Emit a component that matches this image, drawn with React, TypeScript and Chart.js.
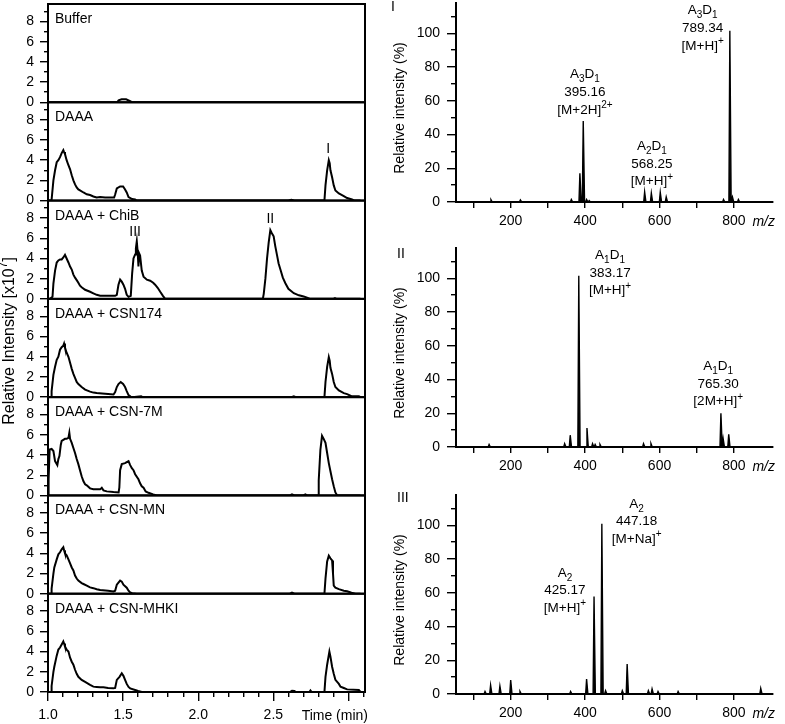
import React, { useEffect, useRef } from 'react';
import { Chart, registerables } from 'chart.js';

Chart.register(...registerables);

const W = 785;
const H = 724;
const FONT = '"Liberation Sans", Arial, Helvetica, sans-serif';

// ---------------- Left column: chromatograms (time in min, intensity x10^7) ----------------
const PANEL_NAMES = ['Buffer', 'DAAA', 'DAAA + ChiB', 'DAAA + CSN174', 'DAAA + CSN-7M', 'DAAA + CSN-MN', 'DAAA + CSN-MHKI'];

const BUFFER_TRACE: [number, number][] = [
  [1.0, 0], [1.46, 0], [1.47, 0.2], [1.49, 0.3], [1.52, 0.3], [1.55, 0.1], [1.56, 0], [3.08, 0],
];
const DAAA_TRACE: [number, number][] = [
  [1.0, 0], [1.013, 0], [1.024, 0.1], [1.036, 2.0], [1.047, 3.0], [1.058, 3.8], [1.069, 4.0], [1.08, 4.3],
  [1.091, 4.7], [1.102, 5.0], [1.107, 4.8], [1.113, 4.6], [1.124, 4.0], [1.136, 3.5], [1.147, 3.1], [1.158, 2.5],
  [1.169, 2.0], [1.18, 1.6], [1.191, 1.3], [1.202, 1.1], [1.213, 1.0], [1.236, 0.8], [1.258, 0.62], [1.28, 0.55],
  [1.302, 0.4], [1.324, 0.3], [1.347, 0.35], [1.38, 0.3], [1.44, 0.3], [1.447, 0.6], [1.458, 1.2], [1.48, 1.4],
  [1.5, 1.4], [1.513, 1.1], [1.524, 0.8], [1.536, 0.35], [1.56, 0.15], [1.58, 0.1], [1.59, 0], [2.6, 0],
  [2.62, 0.08], [2.64, 0], [2.84, 0], [2.847, 1.5], [2.858, 3.0], [2.869, 4.0], [2.875, 3.7], [2.88, 3.0],
  [2.891, 2.3], [2.902, 1.5], [2.913, 1.0], [2.936, 0.7], [2.969, 0.45], [2.991, 0.25], [3.024, 0.1], [3.04, 0],
  [3.08, 0],
];
const CHIB_TRACE: [number, number][] = [
  [1.0, 0], [1.013, 0], [1.03, 0.2], [1.036, 1.5], [1.047, 2.8], [1.058, 3.6], [1.069, 3.8], [1.08, 3.9],
  [1.091, 3.9], [1.102, 4.1], [1.113, 4.35], [1.124, 4.0], [1.136, 3.6], [1.147, 3.2], [1.158, 2.9], [1.169, 2.4],
  [1.18, 2.1], [1.191, 1.85], [1.202, 1.6], [1.213, 1.3], [1.224, 1.15], [1.247, 0.9], [1.28, 0.7], [1.302, 0.55],
  [1.324, 0.4], [1.347, 0.3], [1.4, 0.3], [1.447, 0.3], [1.458, 0.4], [1.469, 1.4], [1.48, 1.9], [1.491, 1.7],
  [1.502, 1.4], [1.513, 1.0], [1.524, 0.4], [1.536, 0.2], [1.551, 0.3], [1.56, 2.5], [1.569, 4.0], [1.58, 4.4],
  [1.585, 5.0], [1.591, 5.7], [1.597, 4.6], [1.602, 3.2], [1.607, 4.5], [1.613, 4.3], [1.624, 2.8], [1.636, 2.2],
  [1.658, 1.9], [1.68, 1.8], [1.7, 1.6], [1.713, 1.4], [1.73, 1.1], [1.747, 0.7], [1.765, 0.3], [1.78, 0],
  [2.43, 0], [2.436, 0.5], [2.447, 2.0], [2.458, 4.0], [2.469, 5.6], [2.48, 6.8], [2.49, 6.5], [2.502, 6.2],
  [2.513, 5.2], [2.524, 4.35], [2.535, 3.5], [2.547, 2.9], [2.563, 2.1], [2.58, 1.55], [2.6, 1.0], [2.636, 0.56],
  [2.67, 0.35], [2.702, 0.23], [2.72, 0.15], [2.747, 0], [2.9, 0], [2.91, 0.08], [2.92, 0], [3.08, 0],
];
const CSN174_TRACE: [number, number][] = [
  [1.0, 0], [1.02, 0], [1.024, 0.6], [1.036, 2.2], [1.047, 3.0], [1.058, 3.7], [1.069, 4.0], [1.08, 4.7],
  [1.091, 4.95], [1.102, 5.1], [1.107, 5.3], [1.113, 4.9], [1.124, 4.4], [1.136, 4.0], [1.147, 3.4], [1.158, 2.8],
  [1.169, 2.3], [1.18, 1.9], [1.191, 1.5], [1.202, 1.3], [1.224, 1.0], [1.247, 0.75], [1.28, 0.55], [1.302, 0.45],
  [1.324, 0.4], [1.36, 0.35], [1.4, 0.3], [1.436, 0.26], [1.447, 0.5], [1.458, 1.0], [1.469, 1.3], [1.484, 1.5],
  [1.5, 1.3], [1.513, 1.0], [1.524, 0.6], [1.536, 0.2], [1.55, 0.05], [1.56, 0], [1.62, 0.08], [1.63, 0],
  [2.62, 0], [2.636, 0.08], [2.65, 0], [2.84, 0], [2.847, 1.5], [2.858, 3.0], [2.869, 3.96], [2.875, 3.6],
  [2.88, 2.9], [2.891, 2.3], [2.902, 1.5], [2.913, 1.0], [2.936, 0.66], [2.969, 0.4], [2.991, 0.3], [3.02, 0.1],
  [3.069, 0.1], [3.08, 0],
];
const CSN7M_TRACE: [number, number][] = [
  [1.0, 0], [1.004, 1.6], [1.011, 4.55], [1.024, 4.6], [1.036, 4.4], [1.047, 3.4], [1.058, 3.1], [1.062, 3.0],
  [1.069, 3.6], [1.076, 3.9], [1.085, 5.0], [1.091, 5.4], [1.102, 5.5], [1.113, 5.6], [1.124, 5.6], [1.136, 5.7],
  [1.142, 6.2], [1.147, 5.6], [1.158, 5.2], [1.169, 4.7], [1.18, 4.2], [1.191, 3.6], [1.202, 3.1], [1.213, 2.5],
  [1.224, 1.9], [1.236, 1.4], [1.247, 1.1], [1.258, 1.0], [1.28, 0.7], [1.302, 0.62], [1.324, 0.6], [1.347, 0.6],
  [1.358, 0.76], [1.369, 0.5], [1.391, 0.4], [1.436, 0.33], [1.47, 0.3], [1.475, 0.8], [1.48, 2.5], [1.491, 3.1],
  [1.513, 3.2], [1.524, 3.3], [1.536, 3.4], [1.547, 3.0], [1.558, 2.7], [1.569, 2.5], [1.58, 2.1], [1.602, 1.6],
  [1.613, 1.2], [1.624, 0.9], [1.636, 0.76], [1.65, 0.4], [1.669, 0.26], [1.7, 0.1], [1.724, 0], [2.61, 0],
  [2.624, 0.1], [2.64, 0], [2.7, 0], [2.713, 0.1], [2.725, 0], [2.8, 0], [2.802, 1.5], [2.813, 4.5],
  [2.824, 5.9], [2.835, 5.6], [2.847, 5.2], [2.858, 4.2], [2.869, 3.2], [2.88, 2.4], [2.891, 1.6], [2.902, 0.9],
  [2.913, 0.3], [2.925, 0], [3.08, 0],
];
const CSNMN_TRACE: [number, number][] = [
  [1.0, 0], [1.02, 0], [1.024, 0.5], [1.036, 2.0], [1.042, 2.6], [1.058, 3.4], [1.069, 3.9], [1.08, 4.1],
  [1.091, 4.4], [1.102, 4.6], [1.107, 4.3], [1.113, 4.0], [1.124, 3.8], [1.136, 3.4], [1.147, 3.0], [1.158, 2.6],
  [1.169, 2.3], [1.18, 1.8], [1.191, 1.5], [1.202, 1.3], [1.224, 1.05], [1.236, 0.96], [1.258, 0.8], [1.28, 0.63],
  [1.302, 0.55], [1.324, 0.45], [1.347, 0.36], [1.4, 0.3], [1.436, 0.23], [1.447, 0.3], [1.458, 0.9], [1.469, 1.1],
  [1.48, 1.3], [1.491, 1.2], [1.502, 0.9], [1.524, 0.6], [1.536, 0.3], [1.547, 0.13], [1.56, 0.05], [1.59, 0],
  [2.61, 0], [2.624, 0.1], [2.64, 0], [2.84, 0], [2.847, 1.5], [2.858, 3.2], [2.869, 3.76], [2.88, 3.5],
  [2.891, 3.3], [2.897, 2.0], [2.902, 0.8], [2.913, 0.6], [2.936, 0.45], [2.969, 0.3], [2.991, 0.25], [3.02, 0.1],
  [3.047, 0], [3.08, 0],
];
const CSNMHKI_TRACE: [number, number][] = [
  [1.0, 0], [1.02, 0], [1.024, 0.6], [1.036, 2.0], [1.042, 2.5], [1.058, 3.6], [1.069, 4.2], [1.08, 4.4],
  [1.091, 4.7], [1.102, 5.0], [1.107, 4.8], [1.113, 4.5], [1.124, 4.2], [1.136, 4.0], [1.147, 3.4], [1.158, 3.0],
  [1.169, 2.7], [1.18, 2.2], [1.191, 1.8], [1.202, 1.5], [1.224, 1.2], [1.247, 1.0], [1.28, 0.7], [1.302, 0.53],
  [1.324, 0.5], [1.347, 0.46], [1.369, 0.46], [1.4, 0.4], [1.436, 0.36], [1.447, 0.4], [1.458, 1.2], [1.476, 1.5],
  [1.491, 1.85], [1.502, 1.6], [1.513, 1.2], [1.524, 0.8], [1.536, 0.5], [1.547, 0.36], [1.58, 0.2], [1.6, 0.1],
  [1.624, 0], [2.61, 0], [2.624, 0.12], [2.64, 0.1], [2.65, 0], [2.74, 0], [2.747, 0.15], [2.755, 0],
  [2.84, 0], [2.847, 1.5], [2.858, 2.7], [2.873, 4.0], [2.88, 3.5], [2.891, 2.5], [2.902, 1.8], [2.913, 1.2],
  [2.936, 0.8], [2.947, 0.53], [2.969, 0.4], [2.991, 0.26], [3.069, 0.2], [3.08, 0],
];
const LEFT_TRACES = [BUFFER_TRACE, DAAA_TRACE, CHIB_TRACE, CSN174_TRACE, CSN7M_TRACE, CSNMN_TRACE, CSNMHKI_TRACE];

const TIME_MIN = 1.0;
const TIME_MAX = 3.11;
const INTENSITY_MAX = 9.73;
const TIME_MAJOR_TICKS = [1.0, 1.5, 2.0, 2.5, 3.0];
const TIME_LABELS = ['1.0', '1.5', '2.0', '2.5', ''];
const TIME_MINOR_TICKS = [1.1, 1.2, 1.3, 1.4, 1.6, 1.7, 1.8, 1.9, 2.1, 2.2, 2.3, 2.4, 2.6, 2.7, 2.8, 2.9, 3.1];
const INT_MAJOR_TICKS = [0, 2, 4, 6, 8];
const INT_MINOR_TICKS = [1, 3, 5, 7, 9];
const PEAK_MARKS = [
  { panel: 1, t: 2.865, v: 4.75, text: 'I' },
  { panel: 2, t: 2.48, v: 7.5, text: 'II' },
  { panel: 2, t: 1.58, v: 6.2, text: 'III' },
];

// ---------------- Right column: mass spectra ----------------
const SPECTRUM_NAMES = ['I', 'II', 'III'];
const MZ_MIN = 53;
const MZ_MAX = 905;
const REL_MAX = 118;
const MZ_TICKS = [100, 200, 300, 400, 500, 600, 700, 800];
const MZ_LABELED = [200, 400, 600, 800];
const REL_MAJOR_TICKS = [0, 20, 40, 60, 80, 100];
const REL_MINOR_TICKS = [10, 30, 50, 70, 90, 110];

// [m/z, relative intensity %]
const SPECTRUM_I: [number, number][] = [
  [147, 1.4], [226, 1.2], [363, 1.5], [386, 17], [395, 48], [404, 1.5], [411, 0.8], [560, 6], [578, 5.3],
  [602, 5.7], [618, 3], [772, 1.5], [789, 101.5], [796, 3], [812, 1.5],
];
const SPECTRUM_II: [number, number][] = [
  [142, 1.5], [345, 2], [360, 7], [383, 101.5], [405, 11.3], [420, 2], [427, 1.5], [440, 1.5], [557, 2],
  [577, 2], [765, 20], [771, 5], [786, 7.5],
];
const SPECTRUM_III: [number, number][] = [
  [131, 1.5], [146, 5.3], [171, 4.7], [200, 8.3], [225, 1.5], [361, 1.5], [404, 8.9], [424, 57.7], [445, 100.8],
  [455, 2], [500, 2], [513, 17.8], [570, 2], [580, 3], [596, 1.5], [650, 1.5], [872, 3.3],
];
const SPECTRA = [SPECTRUM_I, SPECTRUM_II, SPECTRUM_III];

const ANNOTATIONS_I = [
  { mz: 399.6, rel: 73.4, lines: ['A_3D_1', '395.16', '[M+2H]^{2+}'] },
  { mz: 579.6, rel: 30.8, lines: ['A_2D_1', '568.25', '[M+H]^+'] },
  { mz: 715.9, rel: 111.2, lines: ['A_3D_1', '789.34', '[M+H]^+'] },
];
const ANNOTATIONS_II = [
  { mz: 467, rel: 111.4, lines: ['A_1D_1', '383.17', '[M+H]^+'] },
  { mz: 757.8, rel: 45.6, lines: ['A_1D_1', '765.30', '[2M+H]^+'] },
];
const ANNOTATIONS_III = [
  { mz: 538.5, rel: 110.4, lines: ['A_2', '447.18', '[M+Na]^+'] },
  { mz: 345.9, rel: 69.5, lines: ['A_2', '425.17', '[M+H]^+'] },
];
const ANNOTATIONS = [ANNOTATIONS_I, ANNOTATIONS_II, ANNOTATIONS_III];

// ---------------- Layout (pixels) ----------------
const L_LEFT = 48;
const L_RIGHT = 365;
const L_TOP = 4;
const L_BOTTOM = 692;
const R_LEFT = 456;
const R_RIGHT = 773;
const R_ZERO_Y = [202, 447, 694];
const R_PX_PER_PCT = 1.688;
const R_NAME_POS = [[391, 11], [397, 258], [397, 502]];
const LINE_GAP = 17.7;
const TICK_FONT = 14;

// ---------------- Rich text helpers ----------------
type Seg = { t: string; k: number };
function parseRich(s: string): Seg[] {
  const out: Seg[] = [];
  let buf = '';
  let i = 0;
  while (i < s.length) {
    const c = s[i];
    if (c === '_' || c === '^') {
      if (buf) { out.push({ t: buf, k: 0 }); buf = ''; }
      let txt = '';
      if (s[i + 1] === '{') {
        const j = s.indexOf('}', i + 2);
        txt = s.slice(i + 2, j);
        i = j + 1;
      } else {
        txt = s[i + 1];
        i += 2;
      }
      out.push({ t: txt, k: c === '^' ? 1 : -1 });
    } else {
      buf += c;
      i++;
    }
  }
  if (buf) out.push({ t: buf, k: 0 });
  return out;
}

function drawRich(ctx: CanvasRenderingContext2D, s: string, x: number, y: number, align: string, size: number, italic = false) {
  const segs = parseRich(s);
  const small = Math.round(size * 0.72);
  const f = (sz: number) => `${italic ? 'italic ' : ''}${sz}px ${FONT}`;
  let total = 0;
  const widths = segs.map((sg) => {
    ctx.font = f(sg.k ? small : size);
    const w = ctx.measureText(sg.t).width;
    total += w;
    return w;
  });
  let cx = align === 'center' ? x - total / 2 : align === 'right' ? x - total : x;
  ctx.textAlign = 'left';
  ctx.textBaseline = 'alphabetic';
  segs.forEach((sg, i) => {
    ctx.font = f(sg.k ? small : size);
    const dy = sg.k === 1 ? -size * 0.42 : sg.k === -1 ? size * 0.3 : 0;
    ctx.fillText(sg.t, cx, y + dy);
    cx += widths[i];
  });
}

type TextItem = {
  text: string; x: number; y: number; align?: string; size?: number; italic?: boolean;
  rotate?: boolean; data?: boolean; dy?: number;
};

function makeTextPlugin(items: TextItem[]) {
  return {
    id: 'richText',
    afterDraw(chart: any) {
      const ctx: CanvasRenderingContext2D = chart.ctx;
      ctx.save();
      ctx.fillStyle = '#000';
      for (const it of items) {
        let x = it.x;
        let y = it.y;
        if (it.data) {
          x = chart.scales.x.getPixelForValue(it.x);
          y = chart.scales.y.getPixelForValue(it.y) + (it.dy || 0);
        }
        const size = it.size || 14;
        if (it.rotate) {
          ctx.save();
          ctx.translate(x, y);
          ctx.rotate(-Math.PI / 2);
          drawRich(ctx, it.text, 0, 0, 'center', size, it.italic);
          ctx.restore();
        } else {
          drawRich(ctx, it.text, x, y, it.align || 'left', size, it.italic);
        }
      }
      ctx.restore();
    },
  };
}

const framePlugin = {
  id: 'frame',
  afterDatasetsDraw(chart: any) {
    const { ctx, chartArea: a } = chart;
    ctx.save();
    ctx.strokeStyle = '#000';
    ctx.lineWidth = 2;
    ctx.strokeRect(a.left, a.top, a.right - a.left, a.bottom - a.top);
    ctx.restore();
  },
};

type AxisOpts = {
  min: number; max: number; ticks: number[]; labels?: (v: number) => string;
  tickLength: number; show: boolean; border?: boolean; padding?: number; size?: number;
};
// Axes with a size hold the labels (outer, weight 1); minor-tick axes have no size (inner, weight 0).
function axis(kind: 'x' | 'y', o: AxisOpts) {
  return {
    type: 'linear',
    axis: kind,
    position: kind === 'x' ? 'bottom' : 'left',
    weight: o.size ? 1 : 0,
    min: o.min,
    max: o.max,
    display: o.show,
    afterBuildTicks: (s: any) => { s.ticks = o.ticks.map((v) => ({ value: v })); },
    afterFit: (s: any) => {
      const sz = o.show ? (o.size || 0) : 0;
      if (kind === 'x') s.height = sz; else s.width = sz;
      s.paddingTop = 0; s.paddingBottom = 0; s.paddingLeft = 0; s.paddingRight = 0;
    },
    grid: { display: true, drawOnChartArea: false, drawTicks: true, tickLength: o.tickLength, color: '#000', lineWidth: 1.4 },
    border: { display: !!o.border, color: '#000', width: 2 },
    ticks: {
      display: !!o.labels,
      autoSkip: false,
      maxRotation: 0,
      padding: o.padding ?? 6,
      color: '#000',
      font: { size: TICK_FONT, family: FONT },
      callback: (v: any) => (o.labels ? o.labels(Number(v)) : ''),
    },
  };
}

function leftConfig(i: number): any {
  const step = (L_BOTTOM - L_TOP) / LEFT_TRACES.length;
  const top = L_TOP + i * step;
  const bottom = top + step;
  const isBottom = i === LEFT_TRACES.length - 1;
  const items: TextItem[] = [{ text: PANEL_NAMES[i], x: L_LEFT + 7, y: top + 19, align: 'left', size: 14 }];
  PEAK_MARKS.filter((m) => m.panel === i).forEach((m) => {
    items.push({ text: m.text, x: m.t, y: m.v, data: true, align: 'center', size: 14 });
  });
  if (isBottom) items.push({ text: 'Time (min)', x: L_RIGHT + 3, y: L_BOTTOM + 28, align: 'right', size: 14 });
  if (i === 0) items.push({ text: 'Relative Intensity [x10^7]', x: 14, y: 341, rotate: true, size: 16 });
  return {
    type: 'line',
    data: {
      datasets: [{
        data: LEFT_TRACES[i].map(([t, v]) => ({ x: t, y: v })),
        borderColor: '#000', borderWidth: 2, pointRadius: 0, fill: false, tension: 0,
        xAxisID: 'x', yAxisID: 'y',
      }],
    },
    options: {
      responsive: false, animation: false, events: [],
      layout: { padding: { left: 0, right: W - L_RIGHT, top, bottom: isBottom ? 0 : H - bottom } },
      plugins: { legend: { display: false }, tooltip: { enabled: false } },
      scales: {
        x: axis('x', {
          min: TIME_MIN, max: TIME_MAX, ticks: TIME_MAJOR_TICKS, tickLength: 9, show: isBottom, padding: 6,
          size: H - L_BOTTOM, labels: (v) => TIME_LABELS[TIME_MAJOR_TICKS.indexOf(v)] ?? '',
        }),
        x2: axis('x', { min: TIME_MIN, max: TIME_MAX, ticks: TIME_MINOR_TICKS, tickLength: 5, show: isBottom }),
        y: axis('y', {
          min: 0, max: INTENSITY_MAX, ticks: INT_MAJOR_TICKS, tickLength: 8, show: true, padding: 6,
          size: L_LEFT, labels: (v) => String(v),
        }),
        y2: axis('y', { min: 0, max: INTENSITY_MAX, ticks: INT_MINOR_TICKS, tickLength: 4, show: true }),
      },
    },
    plugins: [framePlugin, makeTextPlugin(items)],
  };
}

function rightConfig(j: number): any {
  const bottom = R_ZERO_Y[j];
  const top = bottom - REL_MAX * R_PX_PER_PCT;
  const points: { x: number; y: number }[] = [];
  SPECTRA[j].forEach(([mz, rel]) => {
    points.push({ x: mz - 2.5, y: 0 }, { x: mz, y: rel }, { x: mz + 3.5, y: 0 });
  });
  const items: TextItem[] = [
    { text: SPECTRUM_NAMES[j], x: R_NAME_POS[j][0], y: R_NAME_POS[j][1], align: 'left', size: 14 },
    { text: 'm/z', x: R_RIGHT + 2, y: bottom + 23.5, align: 'right', size: 14, italic: true },
    { text: 'Relative intensity (%)', x: 404, y: bottom - 94, rotate: true, size: 14 },
  ];
  ANNOTATIONS[j].forEach((a) => {
    a.lines.forEach((ln, k) => {
      items.push({ text: ln, x: a.mz, y: a.rel, dy: k * LINE_GAP, data: true, align: 'center', size: 13.5 });
    });
  });
  return {
    type: 'line',
    data: {
      datasets: [{
        data: points,
        borderColor: '#000', backgroundColor: '#000', borderWidth: 1.4, pointRadius: 0,
        fill: 'origin', tension: 0, xAxisID: 'x', yAxisID: 'y',
      }],
    },
    options: {
      responsive: false, animation: false, events: [],
      layout: { padding: { left: 0, right: W - R_RIGHT, top, bottom: 0 } },
      plugins: { legend: { display: false }, tooltip: { enabled: false } },
      scales: {
        x: axis('x', {
          min: MZ_MIN, max: MZ_MAX, ticks: MZ_TICKS, tickLength: 6, show: true, border: true, padding: 5,
          size: H - bottom, labels: (v) => (MZ_LABELED.includes(v) ? String(v) : ''),
        }),
        y: axis('y', {
          min: 0, max: REL_MAX, ticks: REL_MAJOR_TICKS, tickLength: 9, show: true, border: true, padding: 7,
          size: R_LEFT, labels: (v) => String(v),
        }),
        y2: axis('y', { min: 0, max: REL_MAX, ticks: REL_MINOR_TICKS, tickLength: 5, show: true }),
      },
    },
    plugins: [makeTextPlugin(items)],
  };
}

export default function App() {
  const refs = useRef<(HTMLCanvasElement | null)[]>([]);
  const count = LEFT_TRACES.length + SPECTRA.length;

  useEffect(() => {
    Chart.defaults.font.family = FONT;
    Chart.defaults.color = '#000';
    const charts: Chart[] = [];
    LEFT_TRACES.forEach((_, i) => {
      const c = refs.current[i];
      if (c) charts.push(new Chart(c, leftConfig(i)));
    });
    SPECTRA.forEach((_, j) => {
      const c = refs.current[LEFT_TRACES.length + j];
      if (c) charts.push(new Chart(c, rightConfig(j)));
    });
    return () => charts.forEach((ch) => ch.destroy());
  }, []);

  return (
    <div style={{ position: 'absolute', left: 0, top: 0, width: W, height: H, background: '#fff' }}>
      {Array.from({ length: count }).map((_, i) => (
        <canvas
          key={i}
          ref={(el) => { refs.current[i] = el; }}
          width={W}
          height={H}
          style={{ position: 'absolute', left: 0, top: 0, width: W, height: H }}
        />
      ))}
    </div>
  );
}
